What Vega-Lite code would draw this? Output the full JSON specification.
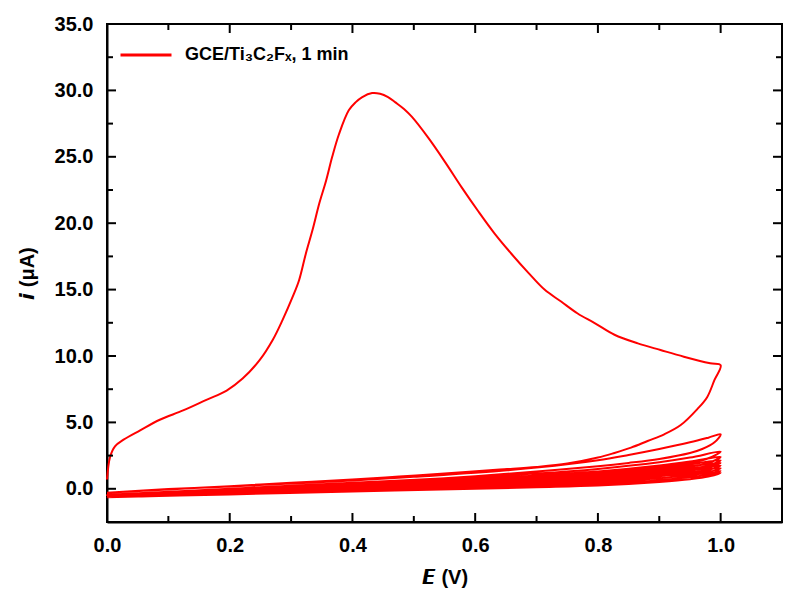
{
  "$schema": "https://vega.github.io/schema/vega-lite/v6.json",
  "width": 675,
  "height": 498,
  "autosize": {"type": "none"},
  "padding": {"left": 107, "top": 24, "right": 18, "bottom": 79},
  "background": "white",
  "config": {
    "view": {"stroke": "black", "strokeWidth": 2},
    "tick": {"color": "black", "thickness": 2, "opacity": 1},
    "axis": {
      "domainColor": "black", "domainWidth": 2, "zindex": 1, "ticks": false, "tickSize": 0,
      "labelFont": "Liberation Sans", "labelFontWeight": "bold", "labelFontSize": 20, "labelColor": "black",
      "titleFont": "Liberation Sans", "titleFontWeight": "bold", "titleFontSize": 20, "titleColor": "black",
      "grid": false, "labelFlush": false, "labelOverlap": false
    }
  },
  "datasets": {
    "xmaj": [{"E":0.2},{"E":0.4},{"E":0.6},{"E":0.8},{"E":1.0}],
    "xmin": [{"E":0.1},{"E":0.3},{"E":0.5},{"E":0.7},{"E":0.9}],
    "ymaj": [{"i":0},{"i":5},{"i":10},{"i":15},{"i":20},{"i":25},{"i":30}],
    "ymin": [{"i":2.5},{"i":7.5},{"i":12.5},{"i":17.5},{"i":22.5},{"i":27.5},{"i":32.5}],
    "cv": [
    {"E":0,"i":0.7},{"E":0.005,"i":2.4},{"E":0.013,"i":3.2},{"E":0.027,"i":3.7},{"E":0.054,"i":4.4},{"E":0.086,"i":5.2},{"E":0.124,"i":5.9},{"E":0.162,"i":6.7},{"E":0.195,"i":7.4},{"E":0.221,"i":8.3},{"E":0.249,"i":9.7},{"E":0.27,"i":11.2},{"E":0.286,"i":12.7},{"E":0.303,"i":14.5},{"E":0.313,"i":15.7},{"E":0.324,"i":17.7},{"E":0.335,"i":19.5},{"E":0.346,"i":21.5},{"E":0.357,"i":23.2},{"E":0.367,"i":25.0},{"E":0.378,"i":26.7},{"E":0.394,"i":28.5},{"E":0.405,"i":29.1},{"E":0.416,"i":29.5},{"E":0.432,"i":29.8},{"E":0.445,"i":29.75},{"E":0.458,"i":29.5},{"E":0.47,"i":29.1},{"E":0.484,"i":28.6},{"E":0.497,"i":28.0},{"E":0.524,"i":26.4},{"E":0.551,"i":24.6},{"E":0.578,"i":22.7},{"E":0.605,"i":20.9},{"E":0.632,"i":19.2},{"E":0.659,"i":17.7},{"E":0.686,"i":16.3},{"E":0.713,"i":15.0},{"E":0.74,"i":14.1},{"E":0.767,"i":13.2},{"E":0.794,"i":12.5},{"E":0.827,"i":11.6},{"E":0.865,"i":10.95},{"E":0.902,"i":10.45},{"E":0.94,"i":9.95},{"E":0.983,"i":9.45},{"E":1.0,"i":9.3},
    {"E":0.99,"i":8.2},{"E":0.978,"i":6.9},{"E":0.962,"i":6.0},{"E":0.935,"i":4.8},{"E":0.908,"i":4.1},{"E":0.881,"i":3.6},{"E":0.854,"i":3.1},{"E":0.827,"i":2.7},{"E":0.8,"i":2.35},{"E":0.75,"i":1.9},{"E":0.7,"i":1.65},{"E":0.64,"i":1.45},{"E":0.55,"i":1.15},{"E":0.476,"i":0.92},{"E":0.4,"i":0.7},{"E":0.3,"i":0.45},{"E":0.2,"i":0.2},{"E":0.1,"i":-0.05},{"E":0,"i":-0.3},
    {"E":0.1,"i":-0.02},{"E":0.2,"i":0.18},{"E":0.3,"i":0.4},{"E":0.4,"i":0.62},{"E":0.5,"i":0.9},{"E":0.6,"i":1.2},{"E":0.7,"i":1.6},{"E":0.8,"i":2.15},{"E":0.85,"i":2.55},{"E":0.9,"i":3.0},{"E":0.95,"i":3.5},{"E":0.98,"i":3.85},{"E":1.0,"i":4.1},
    {"E":0.99,"i":3.5},{"E":0.97,"i":3.0},{"E":0.95,"i":2.7},{"E":0.9,"i":2.25},{"E":0.85,"i":1.95},{"E":0.8,"i":1.7},{"E":0.7,"i":1.3},{"E":0.6,"i":0.95},{"E":0.5,"i":0.65},{"E":0.4,"i":0.4},{"E":0.3,"i":0.15},{"E":0.2,"i":-0.05},{"E":0.1,"i":-0.25},{"E":0,"i":-0.45},
    {"E":0.2,"i":0.0},{"E":0.4,"i":0.45},{"E":0.6,"i":0.9},{"E":0.7,"i":1.15},{"E":0.8,"i":1.5},{"E":0.9,"i":2.0},{"E":0.95,"i":2.35},{"E":1.0,"i":2.8},
    {"E":0.98,"i":2.3},{"E":0.95,"i":1.95},{"E":0.9,"i":1.65},{"E":0.8,"i":1.3},{"E":0.7,"i":1.0},{"E":0.6,"i":0.75},{"E":0.4,"i":0.3},{"E":0.2,"i":-0.1},{"E":0,"i":-0.5},
    {"E":0.2,"i":-0.05},{"E":0.4,"i":0.35},{"E":0.6,"i":0.75},{"E":0.7,"i":1.0},{"E":0.8,"i":1.3},{"E":0.9,"i":1.75},{"E":0.95,"i":2.05},{"E":1.0,"i":2.4},
    {"E":0.98,"i":1.95},{"E":0.95,"i":1.65},{"E":0.9,"i":1.4},{"E":0.8,"i":1.1},{"E":0.7,"i":0.85},{"E":0.6,"i":0.6},{"E":0.4,"i":0.2},{"E":0.2,"i":-0.15},{"E":0,"i":-0.5},
    {"E":0.2,"i":-0.1},{"E":0.4,"i":0.3},{"E":0.6,"i":0.65},{"E":0.7,"i":0.9},{"E":0.8,"i":1.2},{"E":0.9,"i":1.6},{"E":0.95,"i":1.85},{"E":1.0,"i":2.15},
    {"E":0.98,"i":1.75},{"E":0.95,"i":1.5},{"E":0.9,"i":1.25},{"E":0.8,"i":0.95},{"E":0.7,"i":0.7},{"E":0.6,"i":0.5},{"E":0.4,"i":0.12},{"E":0.2,"i":-0.2},{"E":0,"i":-0.55},
    {"E":0.2,"i":-0.12},{"E":0.4,"i":0.25},{"E":0.6,"i":0.6},{"E":0.7,"i":0.82},{"E":0.8,"i":1.1},{"E":0.9,"i":1.45},{"E":0.95,"i":1.7},{"E":1.0,"i":1.95},
    {"E":0.98,"i":1.6},{"E":0.95,"i":1.35},{"E":0.9,"i":1.1},{"E":0.8,"i":0.8},{"E":0.7,"i":0.58},{"E":0.6,"i":0.38},{"E":0.4,"i":0.02},{"E":0.2,"i":-0.27},{"E":0,"i":-0.56},
    {"E":0.2,"i":-0.15},{"E":0.4,"i":0.2},{"E":0.6,"i":0.55},{"E":0.7,"i":0.75},{"E":0.8,"i":1.0},{"E":0.9,"i":1.32},{"E":0.95,"i":1.52},{"E":1.0,"i":1.75},
    {"E":0.98,"i":1.42},{"E":0.95,"i":1.2},{"E":0.9,"i":0.95},{"E":0.8,"i":0.65},{"E":0.7,"i":0.45},{"E":0.6,"i":0.27},{"E":0.4,"i":-0.05},{"E":0.2,"i":-0.32},{"E":0,"i":-0.58},
    {"E":0.2,"i":-0.18},{"E":0.4,"i":0.15},{"E":0.6,"i":0.5},{"E":0.7,"i":0.7},{"E":0.8,"i":0.92},{"E":0.9,"i":1.2},{"E":0.95,"i":1.38},{"E":1.0,"i":1.55},
    {"E":0.98,"i":1.25},{"E":0.95,"i":1.03},{"E":0.9,"i":0.8},{"E":0.8,"i":0.5},{"E":0.7,"i":0.32},{"E":0.6,"i":0.17},{"E":0.4,"i":-0.12},{"E":0.2,"i":-0.36},{"E":0,"i":-0.6},
    {"E":0.2,"i":-0.2},{"E":0.4,"i":0.12},{"E":0.6,"i":0.45},{"E":0.7,"i":0.63},{"E":0.8,"i":0.85},{"E":0.9,"i":1.08},{"E":0.95,"i":1.22},{"E":1.0,"i":1.35},
    {"E":0.98,"i":1.08},{"E":0.95,"i":0.88},{"E":0.9,"i":0.65},{"E":0.8,"i":0.38},{"E":0.7,"i":0.22},{"E":0.6,"i":0.08},{"E":0.4,"i":-0.18},{"E":0.2,"i":-0.4},{"E":0,"i":-0.62},
    {"E":0.2,"i":-0.22},{"E":0.4,"i":0.1},{"E":0.6,"i":0.4},{"E":0.7,"i":0.58},{"E":0.8,"i":0.78},{"E":0.9,"i":0.98},{"E":0.95,"i":1.1},{"E":1.0,"i":1.2},
    {"E":0.98,"i":0.92},{"E":0.95,"i":0.72},{"E":0.9,"i":0.52},{"E":0.8,"i":0.25},{"E":0.7,"i":0.12},{"E":0.6,"i":0.0},{"E":0.4,"i":-0.2},{"E":0.2,"i":-0.42},{"E":0,"i":-0.64}
  ]},
  "layer": [
    {
      "data": {"name": "cv"},
      "mark": {"type": "line", "strokeWidth": 2, "interpolate": "catmull-rom"},
      "encoding": {
        "x": {"field": "E", "type": "quantitative",
          "scale": {"domain": [0, 1.1], "nice": false, "zero": false},
          "axis": {"orient": "bottom", "title": "𝙀 (V)",
            "values": [0, 0.2, 0.4, 0.6, 0.8, 1.0],
            "format": ".1f", "labelPadding": 13, "titlePadding": 12}},
        "y": {"field": "i", "type": "quantitative",
          "scale": {"domain": [-2.5, 35], "nice": false, "zero": false},
          "axis": {"orient": "left", "title": "𝙞 (μA)",
            "values": [0, 5, 10, 15, 20, 25, 30, 35],
            "format": ".1f", "labelPadding": 14, "titlePadding": 17}},
        "order": {"value": null},
        "color": {"datum": "GCE/Ti₃C₂Fₓ, 1 min", "type": "nominal",
          "scale": {"range": ["#FF0000"]},
          "legend": {"title": null, "orient": "none", "legendX": 12, "legendY": 4,
            "symbolType": "stroke", "symbolSize": 2600, "symbolStrokeWidth": 3, "labelLimit": 400,
            "labelFont": "Liberation Sans", "labelFontWeight": "bold", "labelFontSize": 18, "labelColor": "black", "labelOffset": 12}}
      }
    },
    {"data": {"name": "xmaj"}, "mark": {"type": "tick", "orient": "vertical", "size": 9, "yOffset": -4.5},
     "encoding": {"x": {"field": "E", "type": "quantitative"}, "y": {"datum": -2.5, "type": "quantitative"}}},
    {"data": {"name": "xmaj"}, "mark": {"type": "tick", "orient": "vertical", "size": 9, "yOffset": 4.5},
     "encoding": {"x": {"field": "E", "type": "quantitative"}, "y": {"datum": 35, "type": "quantitative"}}},
    {"data": {"name": "xmin"}, "mark": {"type": "tick", "orient": "vertical", "size": 6, "yOffset": -3},
     "encoding": {"x": {"field": "E", "type": "quantitative"}, "y": {"datum": -2.5, "type": "quantitative"}}},
    {"data": {"name": "xmin"}, "mark": {"type": "tick", "orient": "vertical", "size": 6, "yOffset": 3},
     "encoding": {"x": {"field": "E", "type": "quantitative"}, "y": {"datum": 35, "type": "quantitative"}}},
    {"data": {"name": "ymaj"}, "mark": {"type": "tick", "orient": "horizontal", "size": 9, "xOffset": 4.5},
     "encoding": {"y": {"field": "i", "type": "quantitative"}, "x": {"datum": 0, "type": "quantitative"}}},
    {"data": {"name": "ymaj"}, "mark": {"type": "tick", "orient": "horizontal", "size": 9, "xOffset": -4.5},
     "encoding": {"y": {"field": "i", "type": "quantitative"}, "x": {"datum": 1.1, "type": "quantitative"}}},
    {"data": {"name": "ymin"}, "mark": {"type": "tick", "orient": "horizontal", "size": 6, "xOffset": 3},
     "encoding": {"y": {"field": "i", "type": "quantitative"}, "x": {"datum": 0, "type": "quantitative"}}},
    {"data": {"name": "ymin"}, "mark": {"type": "tick", "orient": "horizontal", "size": 6, "xOffset": -3},
     "encoding": {"y": {"field": "i", "type": "quantitative"}, "x": {"datum": 1.1, "type": "quantitative"}}}
  ]
}
